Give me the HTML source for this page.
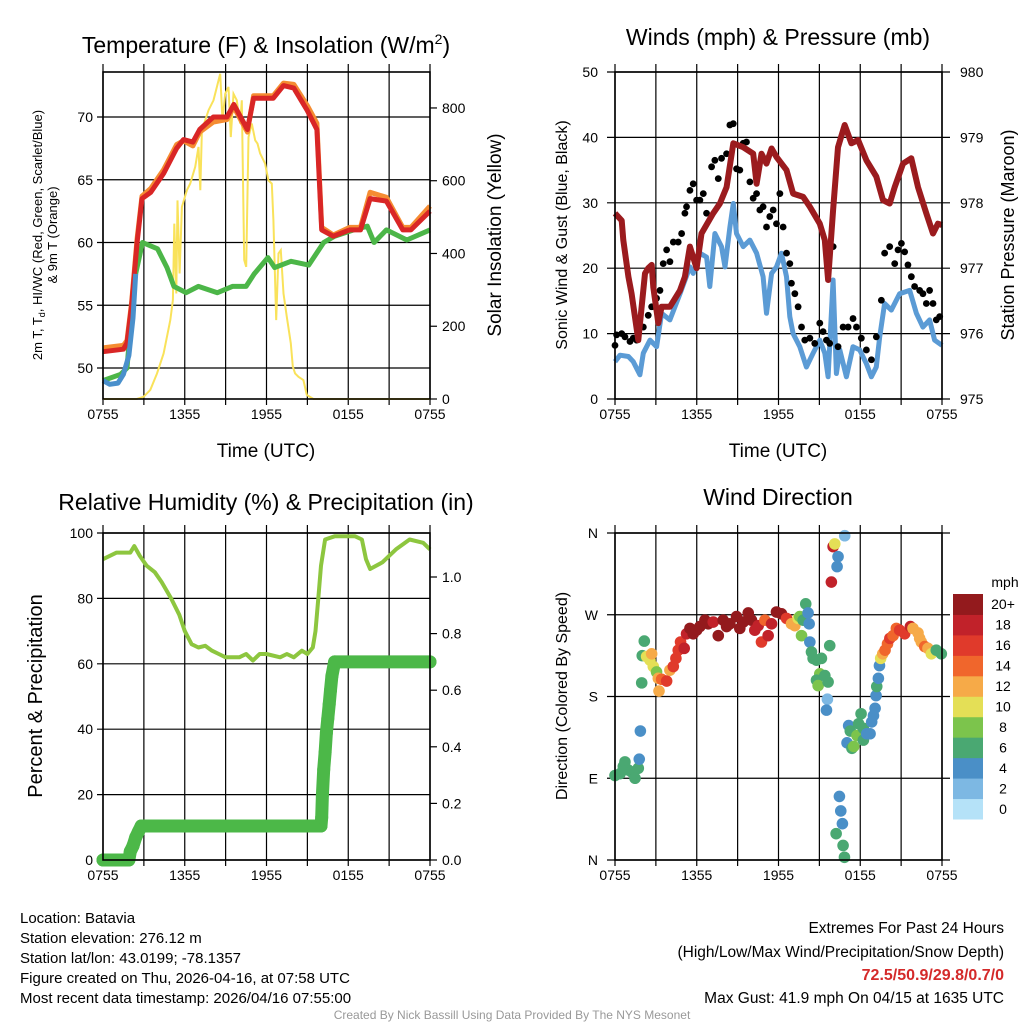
<!DOCTYPE html>
<html><head><meta charset="utf-8">
<style>
body{margin:0;background:#fff;}
svg{display:block;font-family:"Liberation Sans",Arial,sans-serif;}
</style></head>
<body>
<svg id="chart" width="1024" height="1024" viewBox="0 0 1024 1024"></svg>
<script>
// ---------- Panel 1 data ----------
const tempT=[0,1.5,1.76,2.1,2.5,2.86,3.5,4.45,5.4,5.9,6.6,7.1,8.1,9.1,9.6,10.6,11.05,12.5,13.25,14,15,15.7,16.05,16.9,18.1,18.9,19.6,20.8,22,22.6,24];
const tempRed=[51.3,51.5,52,55,60,63.5,64,65.5,67.5,68.2,68,69,70,70,71,69,71.5,71.5,72.5,72.3,70.5,69,61,60.5,61,61,63.5,63.3,61,61,62.5];
const tempOrange=[51.6,51.8,52.2,55.2,60.3,63.7,64.3,65.8,67.8,68.1,67.7,68.8,69.6,69.8,70.8,68.8,71.7,71.7,72.7,72.6,70.9,69.5,61.2,60.6,61.2,61.2,64,63.6,61.2,61.2,62.9];
const dewT=[0,1.3,1.76,2.3,2.9,4,4.7,5.2,6.1,7,8.4,9.5,10.5,11.1,12.1,12.6,13.8,15.1,16.2,17,18.4,19.4,19.9,20.8,22.3,24];
const dewGreen=[49,49.5,50,57,60,59.5,58,56.5,56,56.5,56,56.5,56.5,57.5,58.8,58,58.5,58.2,60,60.5,61,61.3,60,61,60.2,61];
const wcT=[0,0.5,1.1,1.5,1.9,2.2,2.4];
const wcBlue=[49,48.7,48.8,49.5,51,54,57.5];
const solarT=[0,2.49,2.98,3.47,3.96,4.45,4.94,5.13,5.23,5.38,5.47,5.62,5.79,6.16,6.4,6.77,7.01,7.14,7.26,7.75,8.11,8.36,8.6,8.77,8.97,9.21,9.38,9.58,9.82,9.95,10.07,10.19,10.36,10.51,10.68,10.92,11.17,11.34,11.53,11.9,12.14,12.39,12.51,12.71,12.88,13.05,13.25,13.49,13.78,13.93,14.1,14.35,14.71,14.96,15.45,24];
const solarW=[0,0,6,25,70,125,217,272,482,290,546,345,528,574,592,638,693,574,739,794,821,858,894,766,839,858,720,839,821,784,757,821,382,363,720,757,711,702,675,647,601,592,492,217,400,409,290,226,153,89,70,61,52,11,0,0];
const tempTicks=[50,55,60,65,70];
const solarTicks=[0,200,400,600,800];
const timeTickLabels=["0755","1355","1955","0155","0755"];
// ---------- Panel 2 data ----------
const presT=[0,0.49,0.61,0.98,1.22,1.71,2.2,2.44,2.69,2.81,3.18,3.42,4.03,4.77,5.13,5.5,5.99,6.35,7.21,7.7,8.19,8.68,9.41,10.14,10.39,10.75,11.12,11.49,11.85,12.59,13.07,13.81,14.3,15.03,15.4,15.64,16.01,16.37,16.86,17.35,17.84,18.45,19.18,19.67,20.16,20.53,21.14,21.75,22.24,22.85,23.34,23.7,24];
const presMb=[977.84,977.73,977.43,976.87,976.61,975.9,976.92,977.0,977.05,976.71,976.16,976.41,976.41,976.66,976.87,977.33,977.0,977.53,977.84,977.99,978.24,978.91,978.85,978.75,978.29,978.75,978.6,978.83,978.7,978.5,978.14,978.09,977.94,977.68,977.43,976.82,977.89,978.85,979.19,978.91,978.96,978.65,978.4,978.04,977.99,978.24,978.6,978.68,978.24,977.84,977.53,977.68,977.66];
const windT=[0,0.37,0.98,1.34,1.83,2.08,2.57,3.05,3.42,4.03,4.77,5.5,5.74,6.23,6.72,6.96,7.33,7.82,8.07,8.43,8.68,8.92,9.41,9.9,10.39,10.87,11.12,11.49,11.85,12.22,12.59,12.83,13.07,13.56,14.05,14.54,15.03,15.4,15.64,16.01,16.25,16.5,16.98,17.47,17.96,18.45,18.82,19.18,19.43,19.79,20.28,20.89,21.63,22.12,22.6,23.09,23.46,24];
const windMph=[5.7,6.7,6.5,5.7,3.7,7.0,9.0,8.0,13.1,12.1,16.1,20.2,19.2,22.3,21.7,17.2,25.3,23.3,20.2,26.3,29.9,25.3,23.3,24.3,22.3,18.7,13.1,19.2,20.2,22.3,18.7,12.6,10.0,8.0,4.9,7.0,9.0,7.0,3.4,18.2,3.9,7.5,3.4,8.0,7.5,5.4,3.4,4.9,9.5,14.6,13.6,16.1,16.6,13.1,11.0,12.1,9.0,8.2];
const gustT=[0,0.12,0.49,0.73,1.1,1.34,1.59,2.08,2.44,2.69,3.05,3.3,3.54,3.79,4.03,4.28,4.64,4.89,5.13,5.25,5.5,5.74,5.99,6.23,6.48,6.72,7.09,7.33,7.58,7.82,8.19,8.43,8.68,8.92,9.16,9.41,9.65,9.9,10.14,10.39,10.63,10.87,11.12,11.36,11.61,11.85,12.1,12.34,12.59,12.83,12.95,13.2,13.44,13.69,13.93,14.3,14.66,15.03,15.27,15.52,15.76,16.01,16.37,16.74,17.11,17.47,17.72,18.08,18.45,18.82,19.18,19.55,19.79,20.16,20.53,20.77,21.02,21.26,21.5,21.75,21.99,22.36,22.6,22.85,23.09,23.34,23.58,23.83];
const gustMph=[8.2,9.8,10.0,9.5,8.8,9.3,9.0,11.0,12.8,14.1,15.4,16.6,20.7,22.8,21.0,24.0,24.0,25.3,28.4,29.4,31.9,32.9,30.4,30.4,31.4,28.4,35.5,36.5,33.7,36.8,37.5,41.9,42.1,35.2,35.0,39.1,39.3,33.2,30.7,31.4,28.9,29.4,26.3,27.9,28.9,26.8,31.4,26.3,22.3,20.7,17.7,16.1,14.1,11.0,9.0,9.3,8.5,11.6,10.3,9.0,8.5,23.3,8.0,11.0,11.0,12.3,11.0,9.3,7.5,6.0,9.5,15.1,22.3,23.3,20.7,22.8,23.8,22.5,20.5,18.7,17.2,16.6,16.1,14.6,16.6,14.6,12.1,12.6];
const windTicks=[0,10,20,30,40,50];
const presTicks=[975,976,977,978,979,980];
// ---------- Panel 3 data ----------
const rhT=[0,1,2,2.3,2.7,3.2,3.8,4.3,5,5.6,6,6.5,7,7.5,8,8.5,9,10,10.5,11,11.5,12,13,13.5,14,14.6,15,15.4,15.6,15.8,16,16.3,17,18.5,19,19.3,19.6,20.5,21.5,22.5,23.5,24];
const rhPct=[92,94,94,96,93,90,88,85,80,75,70,66,65,65.5,64,63,62,62,63,61,63,63,62,63,62,64,63,65,70,80,90,98,99,99,98,92,89,91,95,98,97,95];
const precipT=[0,0.5,1,1.5,1.9,2.0,2.2,2.4,2.6,2.8,16.0,16.05,16.1,16.2,16.3,16.4,16.5,16.6,16.7,16.8,17.0,24];
const precipIn=[0,0,0,0,0,0.03,0.05,0.08,0.1,0.12,0.12,0.15,0.23,0.32,0.38,0.45,0.5,0.55,0.6,0.65,0.7,0.7];
const pctTicks=[0,20,40,60,80,100];
const precipTicks=["0.0","0.2","0.4","0.6","0.8","1.0"];
// ---------- Panel 4 data ----------
const dirT=[0,0.37,0.61,0.73,0.98,1.22,1.47,1.71,1.78,1.86,1.96,2.0,2.15,2.32,2.57,2.69,2.81,3.05,3.18,3.23,3.42,3.79,4.03,4.28,4.47,4.64,4.81,5.08,5.25,5.5,5.74,5.99,6.23,6.6,6.84,7.21,7.58,7.94,8.19,8.43,8.92,9.16,9.41,9.78,10.02,10.26,10.51,10.75,11.0,11.24,11.49,11.85,12.22,12.59,12.95,13.2,13.44,13.56,13.69,13.81,14.0,14.17,14.25,14.3,14.42,14.54,14.79,15.15,15.03,14.79,14.91,15.4,15.64,15.76,15.59,15.52,15.88,16.01,16.13,16.37,16.3,16.86,16.47,16.57,16.69,16.23,16.74,16.84,17.03,17.15,17.27,17.39,17.52,17.76,17.88,18.06,18.23,18.23,18.48,18.72,18.84,18.97,19.09,19.16,19.21,19.33,19.41,19.5,19.65,19.82,20.0,20.17,20.41,20.65,20.89,21.26,21.68,21.87,22.24,22.36,22.48,22.73,22.97,23.22,23.58,23.95];
const dirDeg=[93,95,103,108,99,97,90,101,111,142,195,225,241,224,220,227,213,207,200,186,199,197,209,213,222,231,240,233,249,255,249,253,257,264,260,262,247,264,257,260,268,255,262,272,264,253,258,240,264,247,260,273,271,266,260,258,266,268,247,264,282,272,260,240,229,222,220,222,205,198,192,203,196,236,177,165,306,345,348,334,323,357,70,54,40,29,16,3,129,148,142,123,125,137,150,161,145,132,139,139,152,159,167,181,191,200,214,222,227,231,238,244,247,255,253,249,257,255,250,244,240,235,233,227,231,227];
const dirSpd=[6,6,6,6,6,6,6,6,4,4,6,6,6,10,10,12,10,8,12,12,14,16,12,16,16,16,16,18,18,20,20,20,20,20,20,18,20,20,20,20,20,20,20,20,20,18,18,16,14,18,18,20,20,16,12,12,10,8,8,6,6,4,4,4,6,6,6,6,8,6,8,6,6,6,2,4,18,18,10,4,4,2,4,4,4,6,6,6,4,4,6,6,8,8,6,6,6,6,4,4,4,4,4,4,6,4,4,10,12,14,14,16,14,14,16,16,18,12,12,12,12,14,12,10,6,6];
const dirTickLabels=["N","E","S","W","N"];
const cbarLabels=["0","2","4","6","8","10","12","14","16","18","20+"];
const cbarColors=["#b5e2f8","#7db8e3","#4a8fc7","#4aa872","#7cc44c","#e4df56","#f6aa48","#f0662c","#e03a2b","#c1222a","#931a1d"];

const svg=document.getElementById('chart');
const NS='http://www.w3.org/2000/svg';
function mk(tag,attrs,parent){const e=document.createElementNS(NS,tag);for(const k in attrs)e.setAttribute(k,attrs[k]);(parent||svg).appendChild(e);return e;}
function txt(s,x,y,size,anchor,parent,extra){const e=mk('text',Object.assign({x:x,y:y,'font-size':size,'text-anchor':anchor||'middle',fill:'#000'},extra||{}),parent);e.textContent=s;return e;}

function panel(name,x0,x1,y0,y1){
  const g=mk('g',{});
  
  
  const sx=t=>x0+(x1-x0)*t/24;
  for(let i=0;i<=8;i++){const x=sx(i*3);
    const l=mk('line',{x1:x,x2:x,y1:y0-8,y2:y1,stroke:'#000','stroke-width':1.2},g);
    
    mk('line',{x1:x,x2:x,y1:y1,y2:y1+6,stroke:'#000','stroke-width':1.2},g);}
  timeTickLabels.forEach((s,i)=>{const e=txt(s,sx(i*6),y1+20,14,'middle',g);
    });
  return {g,sx};
}
function frame(g,x0,x1,y0,y1){const r=mk('rect',{x:x0,y:y0,width:x1-x0,height:y1-y0,fill:'none',stroke:'#000','stroke-width':1.6},g);
  }
function pathFrom(ts,vs,sx,sy){return ts.map((t,i)=>(i?'L':'M')+sx(t).toFixed(1)+','+sy(vs[i]).toFixed(1)).join('');}

// ===== Panel 1 =====
{const x0=103,x1=430,y0=72,y1=399;
 const P=panel('temperature-panel',x0,x1,y0,y1);const g=P.g,sx=P.sx;
 const sy=v=>368-(v-50)*12.55; const sw=w=>399-w*0.3638;
 tempTicks.forEach(v=>{const y=sy(v);mk('line',{x1:x0-6,x2:x1,y1:y,y2:y,stroke:'#000','stroke-width':1.2},g);
   const e=txt(String(v),x0-10,y+5,14,'end',g);});
 solarTicks.forEach(v=>{const y=sw(v);mk('line',{x1:x1,x2:x1+7,y1:y,y2:y,stroke:'#000','stroke-width':1.2},g);
   const e=txt(String(v),x1+12,y+5,14,'start',g);});
 const sol=mk('path',{d:pathFrom(solarT,solarW,sx,sw),fill:'none',stroke:'#f9e25a','stroke-width':2},g);
 
 const dew=mk('path',{d:pathFrom(dewT,dewGreen,sx,sy),fill:'none',stroke:'#4cb648','stroke-width':5,'stroke-linejoin':'round'},g);
 
 const or=mk('path',{d:pathFrom(tempT,tempOrange,sx,sy),fill:'none',stroke:'#f58c32','stroke-width':5,'stroke-linejoin':'round'},g);
 
 const rd=mk('path',{d:pathFrom(tempT,tempRed,sx,sy),fill:'none',stroke:'#d92626','stroke-width':5,'stroke-linejoin':'round'},g);
 
 const bl=mk('path',{d:pathFrom(wcT,wcBlue,sx,sy),fill:'none',stroke:'#4a90cc','stroke-width':5,'stroke-linejoin':'round'},g);
 
 frame(g,x0,x1,y0,y1);
 const t=txt('',266,53,23,'middle',g);t.innerHTML='Temperature (F) &amp; Insolation (W/m<tspan dy="-9" font-size="14">2</tspan><tspan dy="9">)</tspan>';
 
 const xt=txt('Time (UTC)',266,457,19,'middle',g);
 const l1=txt('',0,0,13,'middle',g,{transform:'translate(42,235) rotate(-90)'});l1.innerHTML='2m T, T<tspan dy="3" font-size="9">d</tspan><tspan dy="-3">, HI/WC (Red, Green, Scarlet/Blue)</tspan>';
 
 const l2=txt('& 9m T (Orange)',0,0,13,'middle',g,{transform:'translate(57,235) rotate(-90)'});
 const r1=txt('Solar Insolation (Yellow)',0,0,19,'middle',g,{transform:'translate(501,235) rotate(-90)'});
}
// ===== Panel 2 =====
{const x0=615,x1=942,y0=72,y1=399;
 const P=panel('winds-panel',x0,x1,y0,y1);const g=P.g,sx=P.sx;
 const sy=v=>399-v*6.54; const sp=p=>399-(p-975)*65.4;
 windTicks.forEach(v=>{const y=sy(v);mk('line',{x1:x0-8,x2:x1+8,y1:y,y2:y,stroke:'#000','stroke-width':1.2},g);
   const e=txt(String(v),x0-17,y+5,14,'end',g);});
 presTicks.forEach(v=>{const y=sp(v);
   const e=txt(String(v),x1+18,y+5,14,'start',g);});
 const w=mk('path',{d:pathFrom(windT,windMph,sx,sy),fill:'none',stroke:'#5b9bd5','stroke-width':5,'stroke-linejoin':'round'},g);
 
 gustT.forEach((t,i)=>{const c=mk('circle',{cx:sx(t),cy:sy(gustMph[i]),r:3.4,fill:'#000'},g);
   });
 const p=mk('path',{d:pathFrom(presT,presMb,sx,sp),fill:'none',stroke:'#9b1b1e','stroke-width':6,'stroke-linejoin':'round'},g);
 
 frame(g,x0,x1,y0,y1);
 const t=txt('Winds (mph) & Pressure (mb)',778,45,23,'middle',g);
 const xt=txt('Time (UTC)',778,457,19,'middle',g);
 const l=txt('Sonic Wind & Gust (Blue, Black)',0,0,16,'middle',g,{transform:'translate(567,235) rotate(-90)'});
 const r=txt('Station Pressure (Maroon)',0,0,18,'middle',g,{transform:'translate(1014,235) rotate(-90)'});
}
// ===== Panel 3 =====
{const x0=103,x1=430,y0=533,y1=860;
 const P=panel('humidity-panel',x0,x1,y0,y1);const g=P.g,sx=P.sx;
 const sy=v=>860-v*3.27; const si=v=>860-v*283;
 pctTicks.forEach(v=>{const y=sy(v);mk('line',{x1:x0-6,x2:x1,y1:y,y2:y,stroke:'#000','stroke-width':1.2},g);
   const e=txt(String(v),x0-10,y+5,14,'end',g);});
 precipTicks.forEach(s=>{const y=si(parseFloat(s));mk('line',{x1:x1,x2:x1+7,y1:y,y2:y,stroke:'#000','stroke-width':1.2},g);
   const e=txt(s,x1+12,y+5,14,'start',g);});
 const rh=mk('path',{d:pathFrom(rhT,rhPct,sx,sy),fill:'none',stroke:'#8dc63f','stroke-width':4,'stroke-linejoin':'round'},g);
 
 const pl=mk('path',{d:pathFrom(precipT,precipIn,sx,si),fill:'none',stroke:'#4cb848','stroke-width':13,'stroke-linecap':'round','stroke-linejoin':'round'},g);
 
 precipT.forEach((t,i)=>{const c=mk('circle',{cx:sx(t),cy:si(precipIn[i]),r:6.5,fill:'#4cb848'},g);
   });
 frame(g,x0,x1,y0,y1);
 const t=txt('Relative Humidity (%) & Precipitation (in)',266,510,23,'middle',g);
 const l=txt('Percent & Precipitation',0,0,20,'middle',g,{transform:'translate(42,696) rotate(-90)'});
}
// ===== Panel 4 =====
{const x0=615,x1=942,y0=533,y1=860;
 const P=panel('wind-direction-panel',x0,x1,y0,y1);const g=P.g,sx=P.sx;
 const sy=d=>860-d*(327/360);
 dirTickLabels.forEach((s,i)=>{const y=sy(i*90);mk('line',{x1:x0-8,x2:x1+8,y1:y,y2:y,stroke:'#000','stroke-width':1.2},g);
   const e=txt(s,x0-17,y+5,14,'end',g);});
 dirT.forEach((t,i)=>{const k=Math.min(10,Math.floor(dirSpd[i]/2));
   const c=mk('circle',{cx:sx(t),cy:sy(dirDeg[i]),r:5.8,fill:cbarColors[k]},g);
   });
 frame(g,x0,x1,y0,y1);
 const t=txt('Wind Direction',778,505,23,'middle',g);
 const l=txt('Direction (Colored By Speed)',0,0,16,'middle',g,{transform:'translate(567,696) rotate(-90)'});
 const cb=mk('g',{},g);
 const bh=(819-594)/11;
 cbarColors.forEach((c,i)=>{const y=819-(i+1)*bh;const r=mk('rect',{x:953,y:y,width:30,height:bh+0.5,fill:c},cb);
   
   const e=txt(cbarLabels[i],1003,y+bh/2+5,14,'middle',cb);});
 const u=txt('mph',1005,587,14,'middle',cb);
}
// ===== Footer =====
{const g=mk('g',{});
 ["Location: Batavia","Station elevation: 276.12 m","Station lat/lon: 43.0199; -78.1357","Figure created on Thu, 2026-04-16, at 07:58 UTC","Most recent data timestamp: 2026/04/16 07:55:00"].forEach((s,i)=>{
   const e=txt(s,20,923+i*20,15,'start',g);});
 const a=txt('Extremes For Past 24 Hours',1004,933,15.5,'end',g);
 const b=txt('(High/Low/Max Wind/Precipitation/Snow Depth)',1004,957,15.5,'end',g);
 const c=txt('72.5/50.9/29.8/0.7/0',1004,980,16,'end',g,{fill:'#d42a2a','font-weight':'bold'});
 const d=txt('Max Gust: 41.9 mph On 04/15 at 1635 UTC',1004,1003,15.5,'end',g);
 const e=txt('Created By Nick Bassill Using Data Provided By The NYS Mesonet',512,1019,12,'middle',g,{fill:'#999'});
}
</script>
</body></html>
